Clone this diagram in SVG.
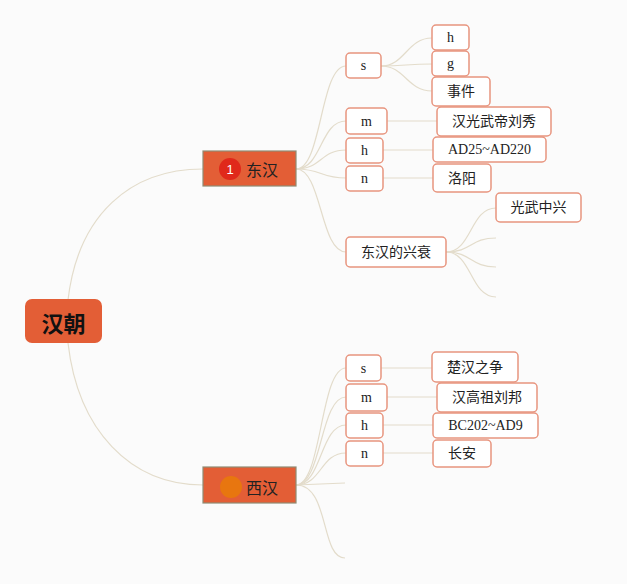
<svg xmlns="http://www.w3.org/2000/svg" width="627" height="584" viewBox="0 0 627 584">
<style>
.bg{fill:#fbfbfb}
.ln{fill:none;stroke:#e3dccb;stroke-width:1.2}
.box{fill:#ffffff;stroke:#e8957f;stroke-width:1.5}
.t{font-family:"Liberation Serif","Noto Sans CJK SC",serif;font-size:14px;fill:#222;text-anchor:middle;dominant-baseline:central}
.main{fill:#e35e36;stroke:#8f8c74;stroke-width:1.2}
.mt{font-family:"Noto Sans CJK SC","Liberation Sans",sans-serif;font-size:16px;fill:#222;dominant-baseline:central}
</style>
<rect class="bg" x="0" y="0" width="627" height="584"/>
<g id="connectors">
<path class="ln" d="M68,300 C78,215 130,169 203,169"/>
<path class="ln" d="M68,343 C78,430 130,485 203,485"/>
<path class="ln" d="M296,169 C322,169 320,66 346,66"/>
<path class="ln" d="M296,169 C322,169 320,121 346,121"/>
<path class="ln" d="M296,169 C322,169 320,150 346,150"/>
<path class="ln" d="M296,169 C322,169 320,178 346,178"/>
<path class="ln" d="M296,169 C322,169 320,252 346,252"/>
<path class="ln" d="M381,66 C405,66 407,38 432,38"/>
<path class="ln" d="M381,66 C405,66 407,64 432,64"/>
<path class="ln" d="M381,66 C405,66 407,91 432,91"/>
<path class="ln" d="M387,121 L437,121"/>
<path class="ln" d="M383,150 L433,150"/>
<path class="ln" d="M383,178 L433,178"/>
<path class="ln" d="M446,252 C472,252 470,208 496,208"/>
<path class="ln" d="M446,252 C472,252 470,238 496,238"/>
<path class="ln" d="M446,252 C472,252 470,267 496,267"/>
<path class="ln" d="M446,252 C472,252 470,297 496,297"/>
<path class="ln" d="M296,485 C322,485 320,368 346,368"/>
<path class="ln" d="M296,485 C322,485 320,397 346,397"/>
<path class="ln" d="M296,485 C322,485 320,425 346,425"/>
<path class="ln" d="M296,485 C322,485 320,453 346,453"/>
<path class="ln" d="M296,485 L345,483"/>
<path class="ln" d="M296,485 C330,485 320,558 345,558"/>
<path class="ln" d="M381,368 L432,368"/>
<path class="ln" d="M387,397 L437,397"/>
<path class="ln" d="M383,425 L433,425"/>
<path class="ln" d="M383,453 L433,453"/>
</g>
<g id="root">
<rect x="25" y="299" width="77" height="44" rx="7" fill="#e35e36"/>
<text x="63.5" y="322" font-family="Noto Sans CJK SC,Liberation Sans,sans-serif" font-size="22" font-weight="bold" fill="#111" text-anchor="middle" dominant-baseline="central">汉朝</text>
</g>
<g id="donghan">
<rect class="main" x="203" y="151" width="93" height="35"/>
<circle cx="230" cy="169" r="11" fill="#e0291b"/>
<text x="230" y="169" font-family="Liberation Sans,sans-serif" font-size="13" fill="#fff" text-anchor="middle" dominant-baseline="central">1</text>
<text class="mt" x="246" y="169">东汉</text>
</g>
<g id="xihan">
<rect class="main" x="203" y="467" width="93" height="36"/>
<circle cx="231" cy="487" r="11" fill="#e8760f"/>
<text class="mt" x="246" y="487">西汉</text>
</g>
<g id="dh-s"><rect class="box" x="346" y="53" width="35" height="25" rx="4"/><text class="t" x="363.5" y="65.5">s</text></g>
<g id="dh-s-h"><rect class="box" x="432" y="25" width="37" height="25" rx="4"/><text class="t" x="450.5" y="37.5">h</text></g>
<g id="dh-s-g"><rect class="box" x="432" y="51" width="37" height="25" rx="4"/><text class="t" x="450.5" y="63.5">g</text></g>
<g id="dh-s-shijian"><rect class="box" x="432" y="77" width="58" height="29" rx="4"/><text class="t" x="461" y="91.5">事件</text></g>
<g id="dh-m"><rect class="box" x="346" y="108" width="41" height="26" rx="4"/><text class="t" x="366.5" y="121">m</text></g>
<g id="dh-m-v"><rect class="box" x="437" y="107" width="114" height="29" rx="4"/><text class="t" x="494" y="121.5">汉光武帝刘秀</text></g>
<g id="dh-h"><rect class="box" x="346" y="138" width="37" height="25" rx="4"/><text class="t" x="364.5" y="150.5">h</text></g>
<g id="dh-h-v"><rect class="box" x="433" y="137" width="113" height="25" rx="4"/><text class="t" x="489.5" y="149.5">AD25~AD220</text></g>
<g id="dh-n"><rect class="box" x="346" y="166" width="37" height="25" rx="4"/><text class="t" x="364.5" y="178.5">n</text></g>
<g id="dh-n-v"><rect class="box" x="433" y="164" width="58" height="28" rx="4"/><text class="t" x="462" y="178">洛阳</text></g>
<g id="dh-xs"><rect class="box" x="346" y="237" width="100" height="30" rx="4"/><text class="t" x="396" y="252">东汉的兴衰</text></g>
<g id="dh-xs-1"><rect class="box" x="496" y="193" width="85" height="29" rx="4"/><text class="t" x="538.5" y="207.5">光武中兴</text></g>
<g id="xh-s"><rect class="box" x="346" y="355" width="35" height="26" rx="4"/><text class="t" x="363.5" y="368">s</text></g>
<g id="xh-s-v"><rect class="box" x="432" y="352" width="86" height="30" rx="4"/><text class="t" x="475" y="367">楚汉之争</text></g>
<g id="xh-m"><rect class="box" x="346" y="384" width="41" height="27" rx="4"/><text class="t" x="366.5" y="397.5">m</text></g>
<g id="xh-m-v"><rect class="box" x="437" y="383" width="100" height="29" rx="4"/><text class="t" x="487" y="397.5">汉高祖刘邦</text></g>
<g id="xh-h"><rect class="box" x="346" y="413" width="37" height="25" rx="4"/><text class="t" x="364.5" y="425.5">h</text></g>
<g id="xh-h-v"><rect class="box" x="433" y="413" width="105" height="25" rx="4"/><text class="t" x="485.5" y="425.5">BC202~AD9</text></g>
<g id="xh-n"><rect class="box" x="346" y="441" width="37" height="25" rx="4"/><text class="t" x="364.5" y="453.5">n</text></g>
<g id="xh-n-v"><rect class="box" x="433" y="440" width="58" height="27" rx="4"/><text class="t" x="462" y="453.5">长安</text></g>
</svg>
